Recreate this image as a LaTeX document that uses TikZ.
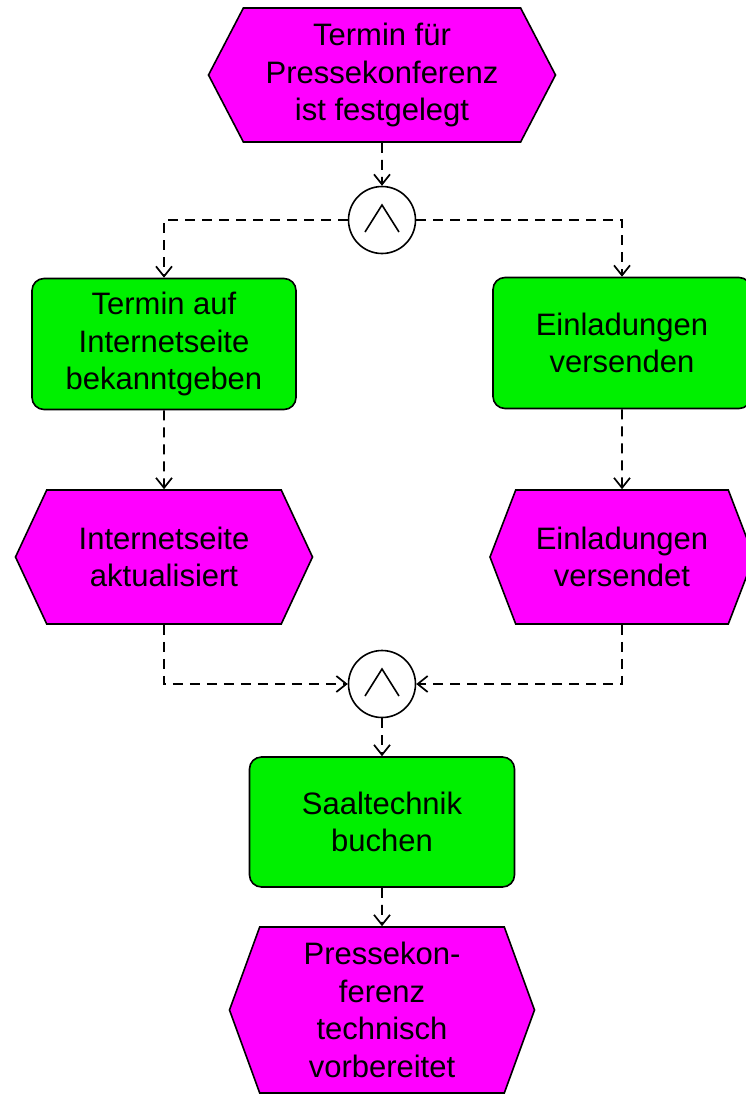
\documentclass[tikz,border=0pt]{standalone}
\usepackage{fontspec}
\setmainfont{Liberation Sans}
\usetikzlibrary{shapes.symbols, arrows.meta, positioning}
\definecolor{eventpink}{HTML}{FF00FF}
\definecolor{funcgreen}{HTML}{00F000}

\tikzset{
  epkevent/.style={signal, signal to=west and east, signal pointer angle=130,
    draw=black, line width=1.6pt, fill=eventpink, minimum height=134pt,
    inner sep=0pt, align=center, font=\fontsize{31}{37.5}\selectfont},
  epkfunc/.style={rectangle, rounded corners=12pt, draw=black, line width=1.6pt,
    fill=funcgreen, minimum height=131pt, inner sep=0pt, align=center,
    font=\fontsize{31}{37.5}\selectfont},
  epkand/.style={circle, draw=black, line width=1.6pt, fill=white, minimum size=67pt,
    inner sep=0pt, path picture={
      \draw[line width=1.6pt] ([shift={(-17pt,-12pt)}]path picture bounding box.center)
        -- ([shift={(0pt,15pt)}]path picture bounding box.center)
        -- ([shift={(17pt,-12pt)}]path picture bounding box.center);}},
  epkflow/.style={line width=1.7pt, dash pattern=on 10pt off 7pt,
    -{Straight Barb[length=10pt,width=16pt]}}
}

\begin{document}
\begin{tikzpicture}[x=1pt, y=1pt]
  \useasboundingbox (0,0) rectangle (746,-1096);

  % Start event and first AND split
  \node[epkevent, minimum width=347pt, signal pointer angle=125] (evTermin) at (382,-75) {Termin für\\Pressekonferenz\\ist festgelegt};
  \node[epkand] (andSplit) at (382,-220) {};

  % Two parallel branches
  \node[epkfunc, minimum width=264pt] (fnInternet) at (164,-344) {Termin auf\\Internetseite\\bekanntgeben};
  \node[epkfunc, minimum width=258pt] (fnEinladung) at (622,-343) {Einladungen\\versenden};
  \node[epkevent, minimum width=297pt] (evInternet) at (164,-557) {Internetseite\\aktualisiert};
  \node[epkevent, minimum width=264pt, signal pointer angle=138] (evEinladung) at (622,-557) {Einladungen\\versendet};

  % AND join and last steps
  \node[epkand] (andJoin) at (382,-684) {};
  \node[epkfunc, minimum width=265pt, minimum height=130pt] (fnSaal) at (382,-822) {Saaltechnik\\buchen};
  \node[epkevent, minimum width=305pt, minimum height=166pt, signal pointer angle=140] (evSaal) at (382,-1010) {Pressekon-\\ferenz\\technisch\\vorbereitet};

  % Control flow
  \draw[epkflow] (evTermin) -- (andSplit);
  \draw[epkflow] (andSplit) -| (fnInternet);
  \draw[epkflow] (andSplit) -| (fnEinladung);
  \draw[epkflow] (fnInternet) -- (evInternet);
  \draw[epkflow] (fnEinladung) -- (evEinladung);
  \draw[epkflow] (evInternet) |- (andJoin);
  \draw[epkflow] (evEinladung) |- (andJoin);
  \draw[epkflow] (andJoin) -- (fnSaal);
  \draw[epkflow] (fnSaal) -- (evSaal);
\end{tikzpicture}
\end{document}
